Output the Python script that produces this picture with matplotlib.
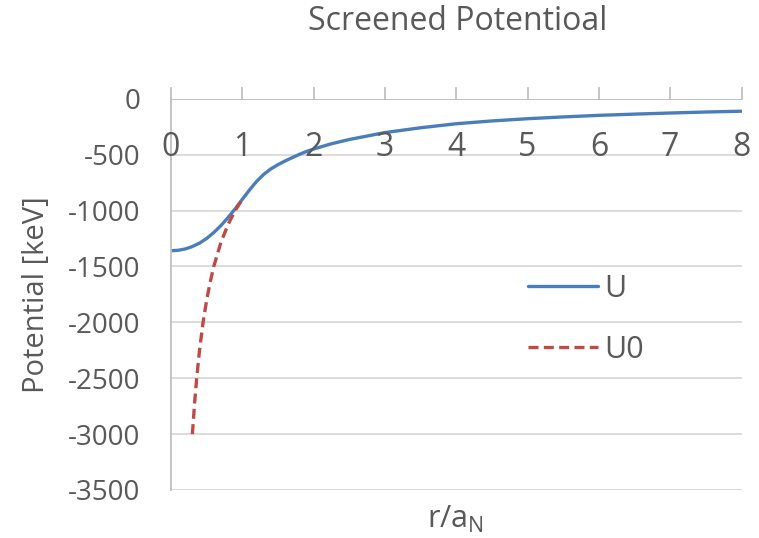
import matplotlib.pyplot as plt

# values
r_u = [0, 0.1, 0.2, 0.3, 0.4, 0.5, 0.6, 0.7, 0.8, 0.9, 1.0, 1.1, 1.2, 1.3, 1.4, 1.5,
       1.6, 1.7, 1.8, 1.9, 2.0, 2.25, 2.5, 3.0, 3.5, 4.0, 4.5, 5.0, 5.5, 6.0, 6.5,
       7.0, 7.5, 8.0]
u = [-1360, -1356, -1344, -1322, -1292, -1250, -1197, -1135, -1063, -985, -900,
     -817, -740, -677, -628, -590, -557, -527, -498, -472, -450, -403, -365,
     -303, -260, -224, -199, -179, -163, -149, -138, -128, -119, -112]

r_u0 = [0.3, 0.33, 0.36, 0.4, 0.45, 0.5, 0.55, 0.6, 0.7, 0.8, 0.9, 1.0]
u0 = [-3000, -2730, -2500, -2250, -2000, -1800, -1640, -1500, -1285, -1125, -1000, -900]

x_ticks = [0, 1, 2, 3, 4, 5, 6, 7, 8]
y_ticks = [0, -500, -1000, -1500, -2000, -2500, -3000, -3500]

TEXT = '#595959'
GRID = '#d9d9d9'

plt.rcParams['font.family'] = ['Open Sans', 'DejaVu Sans']

fig = plt.figure(figsize=(7.59, 5.38), dpi=100)
ax = fig.add_axes([171 / 759, 1 - 490 / 538, 570.5 / 759, 391.3 / 538])

ax.plot(r_u, u, color='#4a7ebb', lw=2.4, label='U', solid_capstyle='round')
ax.plot(r_u0, u0, color='#be4b48', lw=2.4, ls=(0, (3, 1.6)), label='U0')

ax.set_xlim(0, 8)
ax.set_ylim(-3500, 0)
ax.set_yticks(y_ticks)
ax.set_yticklabels([str(v) for v in y_ticks], fontsize=20, color=TEXT)
ax.tick_params(axis='y', length=0, pad=22)

ax.grid(axis='y', color=GRID, lw=1.3)
ax.set_axisbelow(True)
for side in ['top', 'right', 'bottom']:
    ax.spines[side].set_visible(False)
ax.spines['left'].set_color('#bfbfbf')
ax.spines['left'].set_linewidth(1.3)

# x axis sits at y=0, tick marks point up, labels below the line
ax.set_xticks([])
ax.axhline(0, color='#bfbfbf', lw=1.3, zorder=1)
ax.axhline(-3500, color=GRID, lw=1.3, zorder=1)
for t in x_ticks:
    ax.plot([t, t], [0, 100], color='#bfbfbf', lw=1.3, clip_on=False, zorder=1)
    ax.text(t, -440, str(t), ha='center', va='center', fontsize=23, color=TEXT)

fig.text(458 / 759, 1 - 22 / 538, 'Screened Potentioal', ha='center', va='center',
         fontsize=23, color=TEXT)
ax.set_ylabel('Potential [keV]', fontsize=21, color=TEXT)
ax.yaxis.set_label_coords(-0.21, 0.5)
ax.set_xlabel('r/a$_\\mathregular{N}$', fontsize=22, color=TEXT)
ax.xaxis.set_label_coords(0.498, -0.035)

leg = ax.legend(loc='center left', bbox_to_anchor=(0.5776, 0.436), frameon=False,
                fontsize=22, handlelength=2.3, handletextpad=0.2, labelspacing=1.0)
for txt in leg.get_texts():
    txt.set_color(TEXT)

fig.savefig('out.png', dpi=100)
